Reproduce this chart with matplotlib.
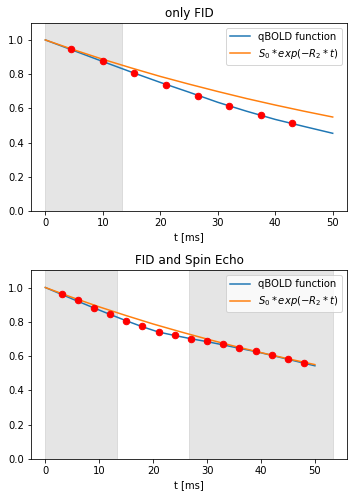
import matplotlib
matplotlib.use('Agg')
import matplotlib.pyplot as plt

# Top panel: only FID
t_curve_fid = [0, 5, 10, 15, 20, 25, 30, 35, 40, 45, 50]
qbold_fid = [1.0, 0.937, 0.874, 0.812, 0.752, 0.695, 0.636, 0.584, 0.536, 0.495, 0.455]
mono_fid = [1.0, 0.942, 0.887, 0.836, 0.787, 0.742, 0.699, 0.658, 0.620, 0.584, 0.55]
t_data_fid = [4.5, 10.0, 15.5, 21.0, 26.5, 32.0, 37.5, 43.0]
s_data_fid = [0.945, 0.875, 0.805, 0.735, 0.670, 0.612, 0.560, 0.515]
spans_fid = [(0, 13.3)]

# Bottom panel: FID and Spin Echo
t_curve_se = [0, 3, 6, 9, 12, 15, 18, 21, 24, 27, 30, 33, 36, 39, 42, 45, 48, 50]
qbold_se = [1.0, 0.960, 0.920, 0.881, 0.843, 0.806, 0.771, 0.740, 0.720, 0.701, 0.684,
            0.665, 0.645, 0.626, 0.604, 0.581, 0.558, 0.543]
t_mono_se = [0, 5, 10, 15, 20, 25, 30, 35, 40, 45, 50]
mono_se = [1.0, 0.942, 0.887, 0.836, 0.787, 0.742, 0.699, 0.658, 0.620, 0.584, 0.55]
t_data_se = [3, 6, 9, 12, 15, 18, 21, 24, 27, 30, 33, 36, 39, 42, 45, 48]
s_data_se = [0.965, 0.925, 0.882, 0.848, 0.807, 0.773, 0.738, 0.720, 0.702, 0.686,
             0.668, 0.645, 0.628, 0.605, 0.580, 0.558]
spans_se = [(0, 13.3), (26.6, 53.3)]

fig, axes = plt.subplots(2, 1, figsize=(352 / 72, 496 / 72), dpi=72)
fig.subplots_adjust(left=0.088, right=0.986, top=0.954, bottom=0.075, hspace=0.314)

panels = [
    ('only FID', t_curve_fid, qbold_fid, t_curve_fid, mono_fid, t_data_fid, s_data_fid, spans_fid),
    ('FID and Spin Echo', t_curve_se, qbold_se, t_mono_se, mono_se, t_data_se, s_data_se, spans_se),
]

for ax, (title, tq, sq, tm, sm, td, sd, spans) in zip(axes, panels):
    for a, b in spans:
        ax.axvspan(a, b, color='gray', alpha=0.2)
    ax.plot(tq, sq, color='#1f77b4', label='qBOLD function')
    ax.plot(tm, sm, color='#ff7f0e', label='$S_0 * exp(-R_2 * t)$')
    ax.plot(td, sd, 'o', color='red', markersize=6.5)
    ax.set_ylim(0, 1.1)
    ax.set_xlabel('t [ms]')
    ax.set_title(title)
    ax.legend(loc='upper right')

plt.savefig('out.png', dpi=72)
